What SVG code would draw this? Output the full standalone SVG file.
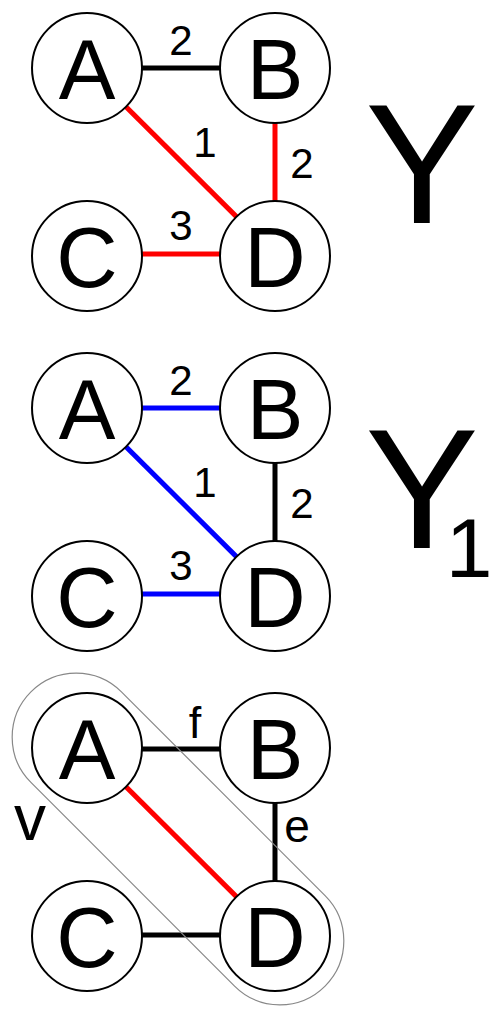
<svg xmlns="http://www.w3.org/2000/svg" width="500" height="1021" viewBox="0 0 500 1021">
<style>
.n{fill:#fff;stroke:#000;stroke-width:2}
.t{font-family:"Liberation Sans",Arial,sans-serif;font-size:85px;text-anchor:middle;fill:#000}
.l{font-family:"Liberation Sans",Arial,sans-serif;font-size:42px;text-anchor:middle;fill:#000}
.big{font-family:"Liberation Sans",Arial,sans-serif;font-size:170px;text-anchor:middle;fill:#000}
.e{stroke-width:5;fill:none}
.k{stroke:#000}.r{stroke:#f00}.b{stroke:#00f}
</style>
<rect width="500" height="1021" fill="#fff"/>
<g id="connectors">
<line class="e k" x1="87" y1="68" x2="275" y2="68"/>
<line class="e r" x1="87" y1="68" x2="275" y2="255"/>
<line class="e r" x1="275" y1="68" x2="275" y2="255"/>
<line class="e r" x1="87" y1="254" x2="275" y2="254"/>
<line class="e b" x1="87" y1="408" x2="275" y2="408"/>
<line class="e b" x1="87" y1="408" x2="275" y2="595"/>
<line class="e k" x1="275" y1="408" x2="275" y2="595"/>
<line class="e b" x1="87" y1="594" x2="275" y2="594"/>
<line class="e k" x1="87" y1="749" x2="275" y2="749"/>
<line class="e r" x1="87" y1="748" x2="275" y2="935"/>
<line class="e k" x1="275" y1="748" x2="275" y2="935"/>
<line class="e k" x1="87" y1="935" x2="275" y2="935"/>
</g>
<g id="p1A"><circle class="n" cx="87" cy="68" r="55"/><text class="t" x="87" y="99">A</text></g>
<g id="p1B"><circle class="n" cx="275" cy="68" r="55"/><text class="t" x="275" y="99">B</text></g>
<g id="p1C"><circle class="n" cx="87" cy="256" r="55"/><text class="t" x="87" y="287">C</text></g>
<g id="p1D"><circle class="n" cx="275" cy="256" r="55"/><text class="t" x="275" y="287">D</text></g>
<g id="p1labels"><text class="l" x="181" y="55">2</text><text class="l" x="205" y="157">1</text><text class="l" x="302" y="178">2</text><text class="l" x="181" y="240">3</text></g>
<text class="big" x="422" y="223">Y</text>
<g id="p2A"><circle class="n" cx="87" cy="408" r="55"/><text class="t" x="87" y="439">A</text></g>
<g id="p2B"><circle class="n" cx="275" cy="408" r="55"/><text class="t" x="275" y="439">B</text></g>
<g id="p2C"><circle class="n" cx="87" cy="596" r="55"/><text class="t" x="87" y="627">C</text></g>
<g id="p2D"><circle class="n" cx="275" cy="596" r="55"/><text class="t" x="275" y="627">D</text></g>
<g id="p2labels"><text class="l" x="181" y="395">2</text><text class="l" x="205" y="497">1</text><text class="l" x="302" y="518">2</text><text class="l" x="181" y="580">3</text></g>
<text class="big" x="422" y="548">Y</text>
<text font-family="Liberation Sans, Arial, sans-serif" font-size="84" x="469" y="577" text-anchor="middle">1</text>
<rect x="-30" y="775" width="416" height="128" rx="64" ry="64" fill="none" stroke="#888" stroke-width="1.2" transform="rotate(45 178 839)"/>
<g id="p3A"><circle class="n" cx="87" cy="748" r="55"/><text class="t" x="87" y="779">A</text></g>
<g id="p3B"><circle class="n" cx="275" cy="748" r="55"/><text class="t" x="275" y="779">B</text></g>
<g id="p3C"><circle class="n" cx="87" cy="936" r="55"/><text class="t" x="87" y="967">C</text></g>
<g id="p3D"><circle class="n" cx="275" cy="936" r="55"/><text class="t" x="275" y="967">D</text></g>
<g id="p3labels"><text class="l" style="font-size:45px" x="195" y="738">f</text><text class="l" style="font-size:46px" x="297" y="842">e</text><text class="l" style="font-size:64px" x="30" y="840">v</text></g>
</svg>
